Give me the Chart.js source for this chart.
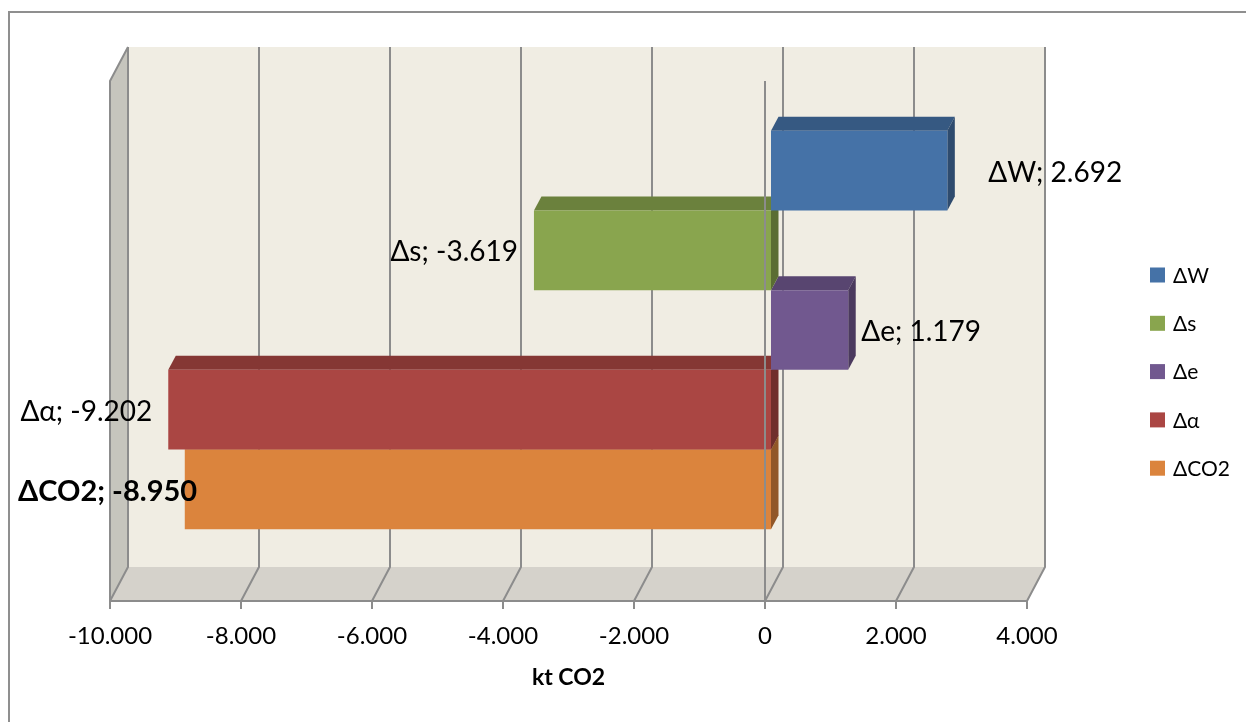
<!DOCTYPE html>
<html>
<head>
<meta charset="utf-8">
<script src="https://cdn.jsdelivr.net/npm/chart.js@4.4.0/dist/chart.umd.min.js"></script>
<style>
  html, body { margin: 0; padding: 0; background: #ffffff; }
  #wrap { width: 1246px; height: 722px; position: relative; }
</style>
</head>
<body>
<div id="wrap"><canvas id="chart" width="1246" height="722"></canvas></div>
<script>
// Decomposition of the CO2 change (kt CO2)
const seriesNames  = ['ΔW', 'Δs', 'Δe', 'Δα', 'ΔCO2'];
const seriesValues = [2692, -3619, 1179, -9202, -8950];
const seriesColors = ['#4572A7', '#89A54E', '#71588F', '#AA4643', '#DB843D'];
const boldLabels   = [false, false, false, false, true];
const axisMin = -10000;
const axisMax = 4000;
const axisStep = 2000;
const axisTitle = 'kt CO2';

// Perspective settings for the 3-D look
const WALL = { dx: 18, dy: -34 };        // depth of the plot box
const BAR_SHIFT = { dx: 6, dy: -11 };    // where the bar fronts sit inside the box
const BAR_DEPTH = { dx: 7.5, dy: -14 };  // thickness of each bar
const labelGaps = [41, 16, 13, 16, 16];
const LINE = '#8C8C8C';
const FONT = 'Lato, "Open Sans", sans-serif';

function fmt(v) {
  const neg = v < 0;
  let s = String(Math.abs(Math.round(v)));
  s = s.replace(/\B(?=(\d{3})+(?!\d))/g, '.');
  return (neg ? '-' : '') + s;
}

function shade(hex, f) {
  const n = parseInt(hex.slice(1), 16);
  const r = Math.round(((n >> 16) & 255) * f);
  const g = Math.round(((n >> 8) & 255) * f);
  const b = Math.round((n & 255) * f);
  return `rgb(${r},${g},${b})`;
}

function poly(ctx, pts, fill) {
  ctx.beginPath();
  ctx.moveTo(pts[0][0], pts[0][1]);
  for (let i = 1; i < pts.length; i++) ctx.lineTo(pts[i][0], pts[i][1]);
  ctx.closePath();
  ctx.fillStyle = fill;
  ctx.fill();
}

const boxPlugin = {
  id: 'box3d',
  beforeDraw(chart) {
    const ctx = chart.ctx;
    ctx.save();
    ctx.strokeStyle = '#8F8F8F';
    ctx.lineWidth = 2;
    ctx.strokeRect(9, 12, 1400, 900);
    ctx.restore();
  },
  beforeDatasetsDraw(chart) {
    const { ctx, chartArea: { left, right, top, bottom } } = chart;
    const xs = chart.scales.x;
    ctx.save();
    // back wall
    ctx.fillStyle = '#F0EDE3';
    ctx.fillRect(left + WALL.dx, top + WALL.dy, right - left, bottom - top);
    // side wall
    poly(ctx, [[left, top], [left + WALL.dx, top + WALL.dy], [left + WALL.dx, bottom + WALL.dy], [left, bottom]], '#C6C5BD');
    // floor
    poly(ctx, [[left, bottom], [left + WALL.dx, bottom + WALL.dy], [right + WALL.dx, bottom + WALL.dy], [right, bottom]], '#D5D2CB');

    ctx.strokeStyle = LINE;
    ctx.lineWidth = 2;
    ctx.lineJoin = 'miter';
    // grid lines on the back wall and the floor, with tick marks
    xs.ticks.forEach(t => {
      const px = xs.getPixelForValue(t.value);
      ctx.beginPath();
      ctx.moveTo(px + WALL.dx, top + WALL.dy);
      ctx.lineTo(px + WALL.dx, bottom + WALL.dy);
      ctx.lineTo(px, bottom);
      ctx.lineTo(px, bottom + 8);
      ctx.stroke();
    });
    // side wall edges
    ctx.beginPath();
    ctx.moveTo(left, bottom);
    ctx.lineTo(left, top);
    ctx.lineTo(left + WALL.dx, top + WALL.dy);
    ctx.stroke();
    // front floor edge
    ctx.beginPath();
    ctx.moveTo(left, bottom);
    ctx.lineTo(right, bottom);
    ctx.stroke();
    ctx.restore();
  },
  beforeDatasetDraw(chart, args) {
    const ctx = chart.ctx;
    const color = seriesColors[args.index];
    ctx.save();
    ctx.translate(BAR_SHIFT.dx, BAR_SHIFT.dy);
    args.meta.data.forEach(el => {
      const { x, y, base, height } = el.getProps(['x', 'y', 'base', 'height'], true);
      const l = Math.min(x, base), r = Math.max(x, base);
      const t = y - height / 2, b = y + height / 2;
      const dx = BAR_DEPTH.dx, dy = BAR_DEPTH.dy;
      // top face
      poly(ctx, [[l, t], [r, t], [r + dx, t + dy], [l + dx, t + dy]], shade(color, 0.78));
      // right face
      poly(ctx, [[r, t], [r + dx, t + dy], [r + dx, b + dy], [r, b]], shade(color, 0.66));
    });
  },
  afterDatasetDraw(chart) {
    chart.ctx.restore();
  },
  afterDatasetsDraw(chart) {
    const { ctx, chartArea: { top, bottom } } = chart;
    const xs = chart.scales.x;
    ctx.save();
    // zero axis line in front of the bars
    const zx = xs.getPixelForValue(0);
    ctx.strokeStyle = LINE;
    ctx.lineWidth = 2;
    ctx.beginPath();
    ctx.moveTo(zx, top);
    ctx.lineTo(zx, bottom);
    ctx.stroke();

    // data labels "name; value"
    ctx.fillStyle = '#000000';
    ctx.textBaseline = 'middle';
    chart.data.datasets.forEach((ds, i) => {
      const el = chart.getDatasetMeta(i).data[0];
      const v = ds.data[0];
      const text = ds.label + '; ' + fmt(v);
      ctx.font = boldLabels[i] ? 'bold 29px ' + FONT : '28px ' + FONT;
      const w = ctx.measureText(text).width;
      const yc = el.y + BAR_SHIFT.dy + 2;
      let xl;
      if (v >= 0) {
        xl = el.x + BAR_SHIFT.dx + labelGaps[i];
      } else {
        xl = el.x + BAR_SHIFT.dx - labelGaps[i] - w;
        if (xl < 18) xl = 18;
      }
      ctx.textAlign = 'left';
      ctx.fillText(text, xl, yc);
    });

    // legend
    ctx.font = '21px ' + FONT;
    chart.data.datasets.forEach((ds, i) => {
      const yc = 275 + i * 48.3;
      ctx.fillStyle = seriesColors[i];
      ctx.fillRect(1150, yc - 7.5, 15, 15);
      ctx.fillStyle = '#000000';
      ctx.textAlign = 'left';
      ctx.textBaseline = 'middle';
      ctx.fillText(ds.label, 1173, yc + 1);
    });
    ctx.restore();
  }
};

const datasets = seriesNames.map((name, i) => ({
  label: name,
  data: [seriesValues[i]],
  backgroundColor: seriesColors[i],
  borderWidth: 0,
  clip: false,
  barPercentage: 1,
  categoryPercentage: 0.766
}));

new Chart(document.getElementById('chart'), {
  type: 'bar',
  data: { labels: [''], datasets },
  options: {
    indexAxis: 'y',
    responsive: false,
    devicePixelRatio: 1,
    animation: false,
    layout: { padding: { left: 110, right: 219, top: 81, bottom: 0 } },
    plugins: { legend: { display: false }, tooltip: { enabled: false } },
    scales: {
      x: {
        type: 'linear',
        min: axisMin,
        max: axisMax,
        grid: { display: false, drawTicks: false },
        border: { display: false },
        ticks: {
          stepSize: axisStep,
          padding: 21,
          color: '#000000',
          font: { family: FONT, size: 24 },
          callback: v => fmt(v)
        },
        title: {
          display: true,
          text: axisTitle,
          color: '#000000',
          font: { family: FONT, size: 23, weight: 'bold' },
          padding: { top: 0, bottom: 31 }
        },
        afterFit: s => { s.height = 121; }
      },
      y: { display: false }
    }
  },
  plugins: [boxPlugin]
});
</script>
</body>
</html>
